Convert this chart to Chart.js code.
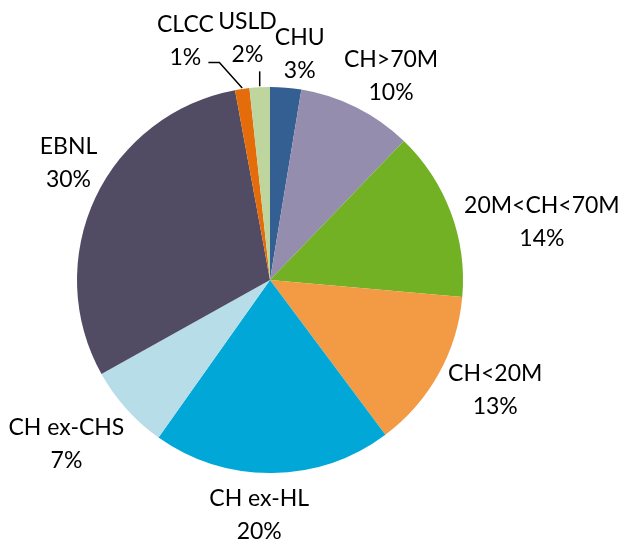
<!DOCTYPE html>
<html>
<head>
<meta charset="utf-8">
<script src="https://cdn.jsdelivr.net/npm/chart.js@4/dist/chart.umd.min.js"></script>
<style>
  html, body { margin: 0; padding: 0; background: #fff; }
  #wrap { width: 622px; height: 543px; }
</style>
</head>
<body>
<div id="wrap"><canvas id="myChart" width="622" height="543"></canvas></div>
<script>
// slices, clockwise from 12 o'clock
const categories = ['CHU', 'CH>70M', '20M<CH<70M', 'CH<20M', 'CH ex-HL', 'CH ex-CHS', 'EBNL', 'CLCC', 'USLD'];
const shares = [2.6, 9.6, 14.2, 13.4, 20.0, 7.1, 30.2, 1.2, 1.7];
const colors = ['#335f92', '#958dad', '#72b024', '#f39a44', '#00a7d7', '#b7dde8', '#514b63', '#e46c0a', '#bfd59e'];

// label nudges (px) from the default outside position
const labelNudge = [
    [11, 11], [8, 9], [7, 26], [5, -6], [-14, -3], [-8, 5], [10, -16], [-51, -3], [-10, -4]
];

const fontFamily = 'Lato, "Open Sans", sans-serif';

const outsideLabels = {
    id: 'outsideLabels',
    afterDatasetsDraw(chart) {
        const ctx = chart.ctx;
        const meta = chart.getDatasetMeta(0);
        const total = shares.reduce((a, b) => a + b, 0);
        ctx.save();
        ctx.font = '23px ' + fontFamily;
        ctx.fillStyle = '#000';
        ctx.textAlign = 'center';
        ctx.textBaseline = 'middle';
        const lineH = 33;
        meta.data.forEach((arc, i) => {
            const p = arc.getProps(['x', 'y', 'startAngle', 'endAngle', 'outerRadius'], true);
            const a = (p.startAngle + p.endAngle) / 2;
            const lines = [categories[i], Math.round(shares[i] / total * 100) + '%'];
            const w = Math.max(...lines.map(t => ctx.measureText(t).width));
            const h = lineH * 2;
            const r = p.outerRadius + 12;
            let cx = p.x + Math.cos(a) * r + Math.cos(a) * w / 2 + labelNudge[i][0];
            let cy = p.y + Math.sin(a) * r + Math.sin(a) * h / 2 + labelNudge[i][1];
            lines.forEach((t, k) => ctx.fillText(t, cx, cy - lineH / 2 + k * lineH));

            // leader lines for the two tiny slices
            if (categories[i] === 'CLCC' || categories[i] === 'USLD') {
                const ex = p.x + Math.cos(a) * p.outerRadius;
                const ey = p.y + Math.sin(a) * p.outerRadius;
                ctx.strokeStyle = '#000';
                ctx.lineWidth = 1.5;
                ctx.beginPath();
                if (categories[i] === 'CLCC') {
                    ctx.moveTo(cx + 23, cy + 21);
                    ctx.lineTo(cx + 34, cy + 21);
                    ctx.lineTo(ex, ey - 1);
                } else {
                    ctx.moveTo(ex, cy + 33);
                    ctx.lineTo(ex, ey - 1);
                }
                ctx.stroke();
            }
        });
        ctx.restore();
    }
};

const ctx = document.getElementById('myChart');
const myChart = new Chart(ctx, {
    type: 'pie',
    data: {
        labels: categories,
        datasets: [{
            data: shares,
            backgroundColor: colors,
            borderWidth: 0
        }]
    },
    options: {
        responsive: false,
        animation: false,
        layout: {
            padding: { left: 77, right: 159, top: 87, bottom: 70 }
        },
        plugins: {
            legend: { display: false },
            tooltip: { enabled: false }
        }
    },
    plugins: [outsideLabels]
});
</script>
</body>
</html>
